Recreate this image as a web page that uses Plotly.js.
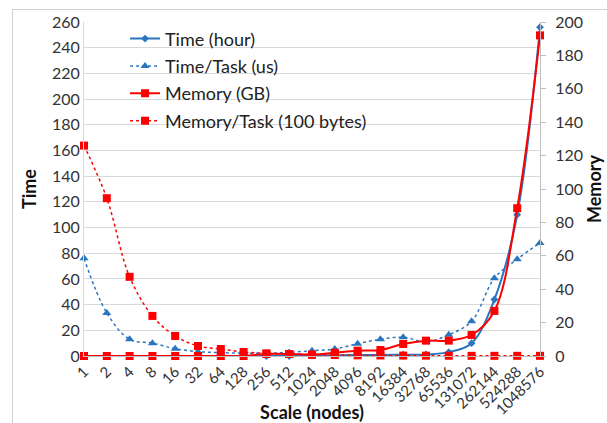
<!DOCTYPE html>
<html>
<head>
<meta charset="utf-8">
<script src="https://cdn.plot.ly/plotly-3.0.1.min.js"></script>
<style>
html,body{margin:0;padding:0;background:#fff;}
#wrap{position:relative;width:607px;height:423px;}
#chart{position:absolute;left:0;top:0;width:607px;height:423px;}
#frame{position:absolute;left:12px;top:9px;right:-2px;bottom:-2px;border-left:1px solid #d0d0d0;border-top:1px solid #d0d0d0;pointer-events:none;}
</style>
</head>
<body>
<div id="wrap"><div id="chart"></div><div id="frame"></div></div>
<script>
const scaleLabels = ["1","2","4","8","16","32","64","128","256","512","1024","2048","4096","8192","16384","32768","65536","131072","262144","524288","1048576"];
const timeHour = [0,0,0,0,0,0,0,0,0,0,0.3,0.5,0.7,0.8,1,1.2,3,10,44,110,256];
const timePerTask = [76,33.5,13,10,5.7,3.4,2.6,2.2,2.2,2.8,4.1,5.5,9.6,13,14.6,11,16.6,27,60.5,75.4,88];
const memoryGB = [0,0,0,0,0,0,0,0,1.2,1.2,0.8,2,3.2,3.6,7.2,9.2,9.2,12.6,27,88.5,192];
const memPerTask = [126,94.5,47.4,24,12,6,4.2,2.4,1.6,1.2,0.8,0.6,0.4,0.3,0.25,0.2,0.15,0.1,0.1,0.1,0.1];

const blue = "#2a75c0";
const red = "#ff0000";
const fontFam = "Lato, 'Open Sans', sans-serif";

const traces = [
  {name:"Time (hour)", x:scaleLabels, y:timeHour, yaxis:"y", type:"scatter", mode:"lines+markers",
   line:{color:blue,width:2,shape:"spline",smoothing:1}, marker:{symbol:"diamond",size:6,color:blue},
   cliponaxis:false, legendgroup:"a"},
  {name:"Time/Task (us)", x:scaleLabels, y:timePerTask, yaxis:"y", type:"scatter", mode:"lines+markers",
   line:{color:blue,width:1.5,dash:"dot",shape:"spline",smoothing:1}, marker:{symbol:"triangle-up",size:8,color:blue},
   cliponaxis:false, legendgroup:"b"},
  {name:"Memory (GB)", x:scaleLabels, y:memoryGB, yaxis:"y2", type:"scatter", mode:"lines+markers",
   line:{color:red,width:2,shape:"spline",smoothing:1}, marker:{symbol:"square",size:8,color:red},
   cliponaxis:false, legendgroup:"c"},
  {name:"Memory/Task (100 bytes)", x:scaleLabels, y:memPerTask, yaxis:"y2", type:"scatter", mode:"lines+markers",
   line:{color:red,width:1.5,dash:"dot",shape:"spline",smoothing:1}, marker:{symbol:"square",size:8,color:red},
   cliponaxis:false, legendgroup:"d"}
];

const layout = {
  width:607, height:423,
  margin:{l:84,r:67,t:22,b:67},
  paper_bgcolor:"#fff", plot_bgcolor:"#fff",
  font:{family:fontFam, size:16, color:"#333"},
  showlegend:true,
  legend:{x:0.09, y:1.005, xanchor:"left", yanchor:"top", bgcolor:"rgba(0,0,0,0)",
          font:{family:fontFam,size:18,color:"#222"}, tracegroupgap:1, itemwidth:30},
  xaxis:{type:"category", range:[0,20], tickangle:-45, ticks:"", showgrid:false,
         showline:true, linecolor:"#bfbfbf", linewidth:1, zeroline:false,
         tickfont:{family:fontFam,size:15,color:"#333"},
         title:{text:"Scale (nodes)", font:{family:fontFam,size:18,color:"#111",weight:"bold"}, standoff:2}},
  yaxis:{range:[0,260], dtick:20, showgrid:true, gridcolor:"#d9d9d9", gridwidth:1,
         showline:true, linecolor:"#d9d9d9", ticks:"", zeroline:false,
         tickfont:{family:fontFam,size:16,color:"#333"},
         title:{text:"Time", font:{family:fontFam,size:18,color:"#111",weight:"bold"}, standoff:10}},
  yaxis2:{range:[0,200], dtick:20, overlaying:"y", side:"right", showgrid:false,
          showline:true, linecolor:"#bfbfbf", ticks:"outside", ticklen:5, tickcolor:"#bfbfbf",
          ticklabelstandoff:6,
          zeroline:false, tickfont:{family:fontFam,size:16,color:"#333"},
          title:{text:"Memory", font:{family:fontFam,size:18,color:"#111",weight:"bold"}, standoff:4}}
};

Plotly.newPlot("chart", traces, layout, {displayModeBar:false, staticPlot:true});
</script>
</body>
</html>
